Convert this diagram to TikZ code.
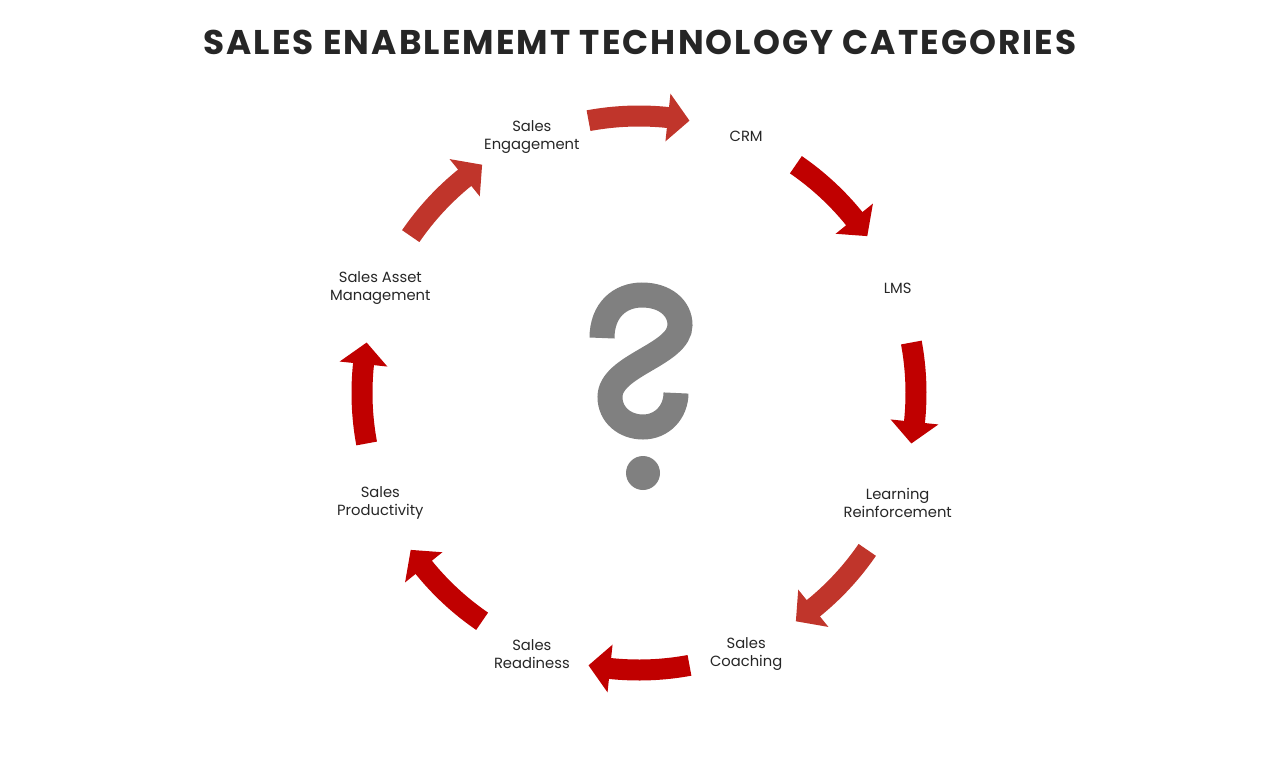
\documentclass[tikz,border=0pt]{standalone}
\usepackage{fontspec}
\setmainfont{Poppins}
\usetikzlibrary{calc}
\definecolor{redlight}{HTML}{C0352B}
\definecolor{reddark}{HTML}{C00000}
\definecolor{qgray}{HTML}{808080}
\definecolor{textdark}{HTML}{262626}
\tikzset{
	lbl/.style={align=center,text=textdark,font=\fontsize{8.4}{10.2}\selectfont,inner sep=0pt,yshift=-1.4pt},
	ttl/.style={text=textdark,font=\fontsize{19.5}{23}\selectfont\bfseries\addfontfeature{LetterSpace=6},inner sep=0pt}
}
\begin{document}
\begin{tikzpicture}[x=0.02cm,y=0.02cm]
	\useasboundingbox (-639,-369) rectangle (641,393);
	\coordinate (O) at (0,0);
	\node[ttl] (title) at (1,351) {SALES ENABLEMEMT TECHNOLOGY CATEGORIES};
	% labels round the circle
	\node[lbl] (eng) at (112.5:280) {Sales\\Engagement};
	\node[lbl] (crm) at (67.5:280) {CRM};
	\node[lbl] (lms) at (22.5:280) {LMS};
	\node[lbl] (lrn) at (-22.5:280) {Learning\\Reinforcement};
	\node[lbl] (coach) at (-67.5:280) {Sales\\Coaching};
	\node[lbl] (ready) at (-112.5:280) {Sales\\Readiness};
	\node[lbl] (prod) at (-157.5:280) {Sales\\Productivity};
	\node[lbl] (asset) at (157.5:280) {Sales Asset\\Management};
	% curved block arrows
	\foreach \a/\c in {90/redlight,45/reddark,0/reddark,-45/redlight,-90/reddark,-135/reddark,180/reddark,135/redlight}
		\fill[\c] ($(O)+({\a+10.5}:287.5)$) arc[start angle=\a+10.5,end angle=\a-6,radius=287.5]
			-- ($(O)+({\a-6}:301)$) -- ($(O)+({\a-10.5}:277)$) -- ($(O)+({\a-6}:253)$)
			-- ($(O)+({\a-6}:266.5)$) arc[start angle=\a-6,end angle=\a+10.5,radius=266.5] -- cycle;
	% question mark
	\draw[qgray,line width=0.5cm] (-37,55) .. controls (-37,83) and (-19,98) .. (3,98)
		.. controls (26,98) and (41,85) .. (41,68)
		.. controls (41,38) and (-29,28) .. (-29,-4)
		.. controls (-29,-22) and (-14,-34) .. (4,-34)
		.. controls (23,-34) and (37,-19) .. (37,0);
	\fill[qgray] (4,-80) circle (17);
\end{tikzpicture}
\end{document}
